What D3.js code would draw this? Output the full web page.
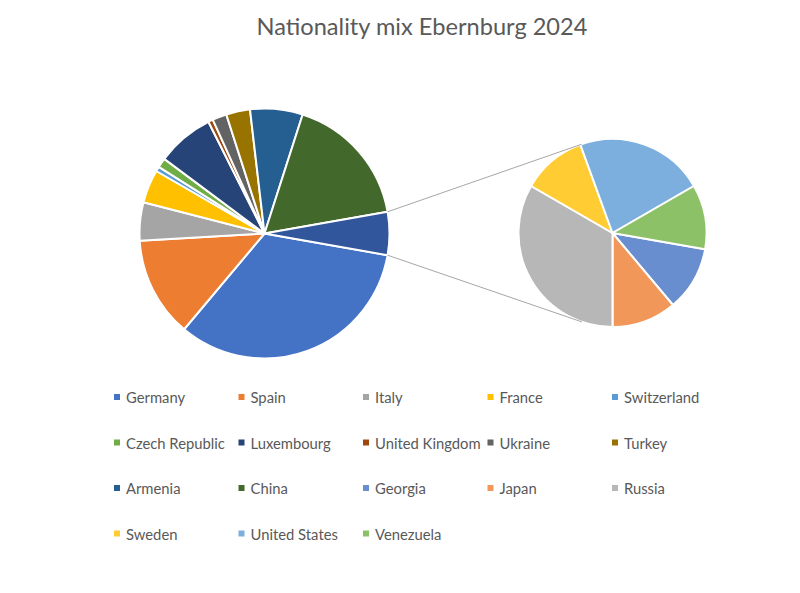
<!DOCTYPE html>
<html>
<head>
<meta charset="utf-8">
<script src="https://cdn.jsdelivr.net/npm/d3@7"></script>
<style>
  body { margin: 0; background: #fff; }
</style>
</head>
<body>
<div class="chart"></div>
<script>
// 차트 데이터
const chartTitle = 'Nationality mix Ebernburg 2024';
const countries = ['Germany', 'Spain', 'Italy', 'France', 'Switzerland', 'Czech Republic',
  'Luxembourg', 'United Kingdom', 'Ukraine', 'Turkey', 'Armenia', 'China',
  'Georgia', 'Japan', 'Russia', 'Sweden', 'United States', 'Venezuela'];
const people = [54, 21, 8, 7, 1, 2, 12, 1, 3, 5, 11, 28, 1, 1, 3, 1, 2, 1];
const colors = ['#4472C4', '#ED7D31', '#A5A5A5', '#FFC000', '#5B9BD5', '#70AD47',
  '#264478', '#9E480E', '#636363', '#997300', '#255E91', '#43682B',
  '#698ED0', '#F1975A', '#B7B7B7', '#FFCD33', '#7CAFDD', '#8CC168'];
const secondCount = 6;          // 마지막 6개 항목은 보조 파이로
const otherColor = '#31569C';   // "기타" 조각 색

const W = 800, H = 593;
const textColor = '#595959';
const font = 'Lato, "Open Sans", sans-serif';

const svg = d3.select('.chart')
  .append('svg')
  .attr('width', W)
  .attr('height', H);

/******************** 제목 ********************/
svg.append('text')
  .attr('x', 422)
  .attr('y', 35)
  .attr('text-anchor', 'middle')
  .attr('font-family', font)
  .attr('font-size', 23.6)
  .attr('fill', textColor)
  .text(chartTitle);

/******************** 주 파이 ********************/
const nMain = countries.length - secondCount;
const mainIdx = d3.range(nMain);
const subIdx = d3.range(nMain, countries.length);
const otherSum = d3.sum(subIdx, i => people[i]);
const total = d3.sum(people);

// 기타 조각이 오른쪽(3시 방향) 중앙에 오도록 시작 각도 계산
const otherAngle = 2 * Math.PI * otherSum / total;
const mainStart = Math.PI / 2 + otherAngle / 2;

const mainData = mainIdx.map(i => ({name: countries[i], value: people[i], color: colors[i]}))
  .concat([{name: 'Other', value: otherSum, color: otherColor}]);

const mainCenter = [264.5, 233.5], mainR = 125;
const mainArcs = d3.pie().sort(null).value(d => d.value)
  .startAngle(mainStart).endAngle(mainStart + 2 * Math.PI)(mainData);
const mainArc = d3.arc().innerRadius(0).outerRadius(mainR);

svg.append('g')
    .attr('transform', `translate(${mainCenter})`)
    .attr('stroke', '#fff')
    .attr('stroke-width', 2)
    .attr('stroke-linejoin', 'round')
  .selectAll('path')
  .data(mainArcs)
  .join('path')
    .attr('fill', d => d.data.color)
    .attr('d', mainArc);

/******************** 보조 파이 ********************/
const subCenter = [612.5, 233], subR = 94;
const subStart = 100 / 180 * Math.PI;
const subData = subIdx.map(i => ({name: countries[i], value: people[i], color: colors[i]}));
const subArcs = d3.pie().sort(null).value(d => d.value)
  .startAngle(subStart).endAngle(subStart + 2 * Math.PI)(subData);
const subArc = d3.arc().innerRadius(0).outerRadius(subR);

svg.append('g')
    .attr('transform', `translate(${subCenter})`)
    .attr('stroke', '#fff')
    .attr('stroke-width', 2)
    .attr('stroke-linejoin', 'round')
  .selectAll('path')
  .data(subArcs)
  .join('path')
    .attr('fill', d => d.data.color)
    .attr('d', subArc);

/******************** 연결선 ********************/
// 기타 조각 끝점에서 보조 파이 원에 접하는 선
const other = mainArcs[mainArcs.length - 1];
const edge = a => [mainCenter[0] + mainR * Math.sin(a), mainCenter[1] - mainR * Math.cos(a)];
const tangent = (p, side) => {
  const dx = subCenter[0] - p[0], dy = subCenter[1] - p[1];
  const d = Math.hypot(dx, dy);
  const ang = Math.atan2(dy, dx) + side * Math.asin(subR / d);
  const len = Math.sqrt(d * d - subR * subR);
  return [p[0] + len * Math.cos(ang), p[1] + len * Math.sin(ang)];
};
const p1 = edge(other.startAngle), p2 = edge(other.endAngle);
const lines = [[p1, tangent(p1, -1)], [p2, tangent(p2, 1)]];

svg.append('g')
  .selectAll('line')
  .data(lines)
  .join('line')
    .attr('x1', d => d[0][0])
    .attr('y1', d => d[0][1])
    .attr('x2', d => d[1][0])
    .attr('y2', d => d[1][1])
    .attr('stroke', '#A6A6A6')
    .attr('stroke-width', 1);

/******************** 범례 ********************/
const cols = 5;
const xLegend = d3.scaleLinear().domain([0, 1]).range([114, 238.5]);
const yLegend = d3.scaleLinear().domain([0, 1]).range([397, 442.5]);

const legend = svg.append('g')
  .selectAll('g')
  .data(countries)
  .join('g')
    .attr('transform', (d, i) => `translate(${xLegend(i % cols)},${yLegend(Math.floor(i / cols))})`);

legend.append('rect')
  .attr('x', 0)
  .attr('y', -3)
  .attr('width', 6)
  .attr('height', 6)
  .attr('fill', (d, i) => colors[i]);

legend.append('text')
  .attr('x', 12)
  .attr('y', 0)
  .attr('dominant-baseline', 'central')
  .attr('font-family', font)
  .attr('font-size', 14.8)
  .attr('fill', textColor)
  .text(d => d);
</script>
</body>
</html>
